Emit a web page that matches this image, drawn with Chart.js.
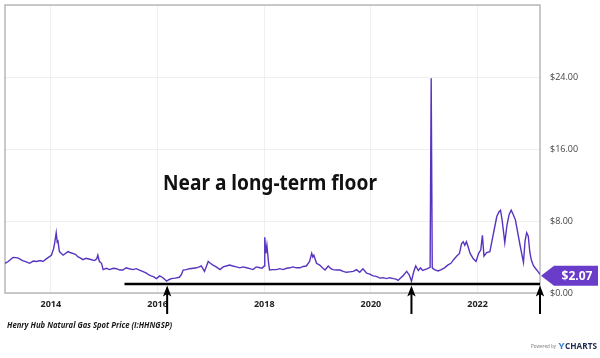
<!DOCTYPE html>
<html><head><meta charset="utf-8">
<script src="https://cdn.jsdelivr.net/npm/chart.js@4.4.1/dist/chart.umd.min.js"></script>
<style>html,body{margin:0;padding:0;background:#fff;}canvas{display:block}</style>
</head><body>
<canvas id="c" width="600" height="358"></canvas>
<script>
// ---- data (decimal year, $/MMBtu) ----
const years = [
2013.14,2013.20,2013.29,2013.38,2013.47,2013.54,2013.60,2013.67,2013.73,2013.80,2013.85,2013.94,
2014.01,2014.05,2014.07,2014.10,2014.12,2014.13,2014.16,2014.23,2014.32,2014.36,2014.41,2014.46,2014.51,2014.55,2014.60,2014.66,2014.73,2014.82,2014.86,2014.88,2014.91,2014.95,2014.98,
2015.04,2015.10,2015.17,2015.23,2015.29,2015.35,2015.41,2015.47,2015.54,2015.60,2015.66,2015.72,2015.79,2015.84,2015.88,2015.93,2015.98,
2016.04,2016.10,2016.17,2016.22,2016.26,2016.33,2016.41,2016.45,2016.48,2016.54,2016.60,2016.67,2016.73,2016.78,2016.82,2016.88,2016.95,2016.99,
2017.04,2017.10,2017.17,2017.23,2017.29,2017.35,2017.41,2017.48,2017.54,2017.60,2017.67,2017.73,2017.79,2017.85,2017.92,2017.96,
2018.00,2018.01,2018.03,2018.05,2018.08,2018.10,2018.16,2018.23,2018.29,2018.35,2018.42,2018.48,2018.54,2018.60,2018.67,2018.73,2018.79,2018.85,2018.89,2018.91,2018.93,2018.98,
2019.04,2019.09,2019.14,2019.20,2019.25,2019.29,2019.36,2019.42,2019.48,2019.54,2019.60,2019.67,2019.73,2019.79,2019.85,2019.92,2019.98,
2020.04,2020.10,2020.17,2020.23,2020.29,2020.35,2020.42,2020.47,2020.51,2020.56,2020.60,2020.67,2020.72,2020.76,2020.80,2020.84,2020.89,2020.93,2020.97,
2021.01,2021.06,2021.11,2021.13,2021.15,2021.19,2021.26,2021.32,2021.38,2021.44,2021.50,2021.55,2021.61,2021.66,2021.70,2021.73,2021.76,2021.79,2021.82,2021.86,2021.92,2021.97,
2022.02,2022.06,2022.09,2022.12,2022.17,2022.23,2022.27,2022.31,2022.36,2022.40,2022.43,2022.46,2022.51,2022.55,2022.59,2022.63,2022.67,2022.71,2022.75,2022.79,2022.83,2022.86,2022.89,2022.92,2022.95,2022.98,
2023.01,2023.05,2023.09,2023.13,2023.17];
const prices = [
3.3,3.5,3.96,3.9,3.6,3.45,3.3,3.55,3.5,3.6,3.5,3.9,
4.2,4.9,5.5,6.7,5.6,5.9,4.6,4.2,4.6,4.5,4.4,4.3,4.0,3.9,3.7,3.85,3.75,3.6,3.8,4.2,3.5,3.3,2.6,
2.75,2.6,2.75,2.7,2.55,2.55,2.8,2.7,2.6,2.7,2.55,2.4,2.2,2.0,1.9,1.8,1.6,
1.9,1.7,1.33,1.5,1.6,1.65,1.75,2.1,2.55,2.6,2.7,2.75,2.8,2.9,3.0,2.4,3.5,3.3,
3.1,2.9,2.6,2.9,3.0,3.1,3.0,2.9,2.8,2.9,2.8,2.7,2.6,2.9,2.8,2.75,
3.0,6.2,4.4,5.3,3.4,2.55,2.6,2.6,2.7,2.6,2.75,2.8,2.9,2.8,2.8,2.95,3.0,3.5,4.4,4.0,4.2,3.3,
3.1,2.8,2.55,3.0,2.7,2.6,2.55,2.55,2.4,2.3,2.35,2.4,2.6,2.3,2.7,2.2,2.1,
1.9,1.85,1.65,1.7,1.6,1.7,1.6,1.55,1.4,1.7,1.9,2.4,2.0,1.3,2.3,3.0,2.5,2.8,2.5,
2.6,2.7,2.85,23.86,2.8,2.6,2.45,2.6,2.8,3.1,3.3,3.7,4.1,4.4,5.5,5.7,5.3,5.7,5.2,4.4,3.8,3.5,
4.4,4.8,6.4,4.1,4.5,4.6,5.8,7.0,8.5,9.0,9.2,8.1,5.6,7.5,8.7,9.2,8.7,8.1,6.8,5.5,4.3,3.4,5.8,6.7,6.3,4.5,
3.6,3.0,2.7,2.4,2.07];
const xTickYears = [2014, 2016, 2018, 2020, 2022];
const yTickValues = [0, 8, 16, 24, 32];
const sourceText = 'Henry Hub Natural Gas Spot Price (I:HHNGSP)';
const noteText = 'Near a long-term floor';
const floorLevel = 1.0;
const floorStartYear = 2015.38;
const arrowYears = [2016.18, 2020.76, 2023.17];

const purple = '#5833c0';

function fitText(ctx, text, x, y, font, targetW) {
  ctx.save();
  ctx.font = font;
  const w = ctx.measureText(text).width;
  ctx.translate(x, y);
  ctx.scale(targetW / w, 1);
  ctx.fillText(text, 0, 0);
  ctx.restore();
}

const deco = {
  id: 'deco',
  beforeDatasetsDraw(chart) {
    const {ctx, chartArea: a} = chart;
    ctx.save();
    ctx.strokeStyle = '#b8b8b8';
    ctx.lineWidth = 1.5;
    ctx.strokeRect(a.left, a.top, a.right - a.left, a.bottom - a.top);
    ctx.restore();
  },
  afterDraw(chart) {
    const {ctx, chartArea: a, scales: {x, y}} = chart;
    ctx.save();
    // floor line
    const fy = y.getPixelForValue(floorLevel);
    ctx.strokeStyle = '#000';
    ctx.lineWidth = 2.5;
    ctx.beginPath();
    ctx.moveTo(x.getPixelForValue(floorStartYear), fy);
    ctx.lineTo(a.right, fy);
    ctx.stroke();
    // arrows
    ctx.fillStyle = '#000';
    arrowYears.forEach(yr => {
      const px = Math.min(x.getPixelForValue(yr), a.right + 0.5);
      const tip = fy + 1.5;
      ctx.beginPath();
      ctx.moveTo(px, tip);
      ctx.lineTo(px - 4.2, tip + 11);
      ctx.lineTo(px, tip + 8.5);
      ctx.lineTo(px + 4.2, tip + 11);
      ctx.closePath();
      ctx.fill();
      ctx.fillRect(px - 1, tip + 8, 2, a.bottom + 21 - (tip + 8));
    });
    // last value callout
    const lv = prices[prices.length - 1];
    const ly = y.getPixelForValue(lv) + 1.5;
    const tx = a.right + 1;
    ctx.fillStyle = '#6a3cca';
    ctx.beginPath();
    ctx.moveTo(tx, ly);
    ctx.lineTo(tx + 13, ly - 10);
    ctx.lineTo(598, ly - 10);
    ctx.lineTo(598, ly + 10);
    ctx.lineTo(tx + 13, ly + 10);
    ctx.closePath();
    ctx.fill();
    ctx.fillStyle = '#fff';
    ctx.font = 'bold 12px "Open Sans"';
    ctx.textAlign = 'center';
    ctx.textBaseline = 'middle';
    ctx.fillText('$' + lv.toFixed(2), 577, ly + 0.5);
    // note text
    ctx.fillStyle = '#111';
    ctx.textAlign = 'left';
    ctx.textBaseline = 'alphabetic';
    fitText(ctx, noteText, 163, 190, 'bold 21px "Noto Sans"', 214);
    // source
    ctx.fillStyle = '#1a1a1a';
    fitText(ctx, sourceText, 7, 328, 'italic bold 9.5px "Open Sans"', 165);
    // powered by
    ctx.fillStyle = '#777';
    fitText(ctx, 'Powered by', 531, 348, '6px "Open Sans"', 25);
    ctx.fillStyle = '#2f7fd0';
    fitText(ctx, 'Y', 558.5, 348.5, 'bold 9.5px "Open Sans"', 6);
    ctx.fillStyle = '#1d2b4c';
    fitText(ctx, 'CHARTS', 565, 348.5, 'bold 9.5px "Open Sans"', 32);
    ctx.restore();
  }
};

new Chart(document.getElementById('c'), {
  type: 'line',
  data: {
    datasets: [{
      data: years.map((yr, i) => ({x: yr, y: prices[i]})),
      borderColor: purple,
      borderWidth: 1.4,
      pointRadius: 0,
      tension: 0,
      fill: false
    }]
  },
  options: {
    responsive: false,
    animation: false,
    devicePixelRatio: 1,
    layout: {padding: {left: 5, top: 5, right: 0, bottom: 0}},
    plugins: {legend: {display: false}, tooltip: {enabled: false}},
    scales: {
      x: {
        type: 'linear',
        min: years[0],
        max: years[years.length - 1],
        afterBuildTicks: s => { s.ticks = xTickYears.map(v => ({value: v})); },
        afterFit: s => { s.height = 65; s.paddingLeft = 0; s.paddingRight = 0; },
        ticks: {
          callback: v => String(v),
          autoSkip: false, maxRotation: 0,
          padding: 6,
          color: '#222',
          font: {family: '"Open Sans"', size: 9, weight: 'bold'}
        },
        grid: {color: '#efefef', drawTicks: false, lineWidth: 1},
        border: {display: false}
      },
      y: {
        position: 'right',
        min: 0, max: 32,
        afterBuildTicks: s => { s.ticks = yTickValues.map(v => ({value: v})); },
        afterFit: s => { s.width = 60; s.paddingTop = 0; s.paddingBottom = 0; },
        ticks: {
          callback: v => v >= 32 ? '' : '$' + v.toFixed(2),
          padding: 10,
          color: '#444',
          font: {family: '"Open Sans"', size: 9}
        },
        grid: {color: '#efefef', drawTicks: false, lineWidth: 1},
        border: {display: false}
      }
    }
  },
  plugins: [deco]
});
</script>
</body></html>
